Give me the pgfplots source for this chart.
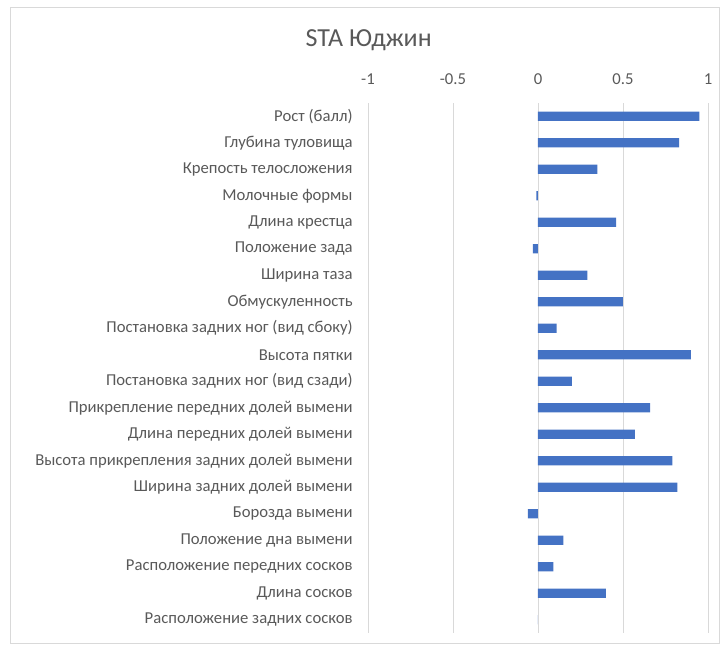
\documentclass[border=0pt]{standalone}
\usepackage{pgfplots}
\pgfplotsset{compat=1.18}
\usepackage{fontspec}
\setmainfont{Carlito}
\definecolor{barblue}{HTML}{4472C4}
\definecolor{txtgray}{HTML}{595959}
\definecolor{gridgray}{HTML}{D9D9D9}
\begin{document}
\begin{tikzpicture}
\useasboundingbox (0pt,0pt) rectangle (544.5pt,-489.75pt);
\draw[gridgray, line width=0.6pt] (7.5pt,-5.25pt) rectangle (539.25pt,-482.25pt);
\node[txtgray, font=\fontsize{19.5}{22}\selectfont] at (276.5pt,-30pt) {STA Юджин};
\begin{axis}[
  at={(276pt,-474.75pt)}, anchor=south west,
  scale only axis, width=255pt, height=397.5pt,
  xbar, bar width=6.8pt,
  xmin=-1, xmax=1,
  ymin=-0.5, ymax=19.5, y dir=reverse,
  xtick={-1,-0.5,0,0.5,1},
  xticklabels={-1,-0.5,0,0.5,1},
  xticklabel pos=upper,
  ytick={0,...,19},
  yticklabels={Рост (балл),Глубина туловища,Крепость телосложения,Молочные формы,Длина крестца,Положение зада,Ширина таза,Обмускуленность,Постановка задних ног (вид сбоку),Высота пятки,Постановка задних ног (вид сзади),Прикрепление передних долей вымени,Длина передних долей вымени,Высота прикрепления задних долей вымени,Ширина задних долей вымени,Борозда вымени,Положение дна вымени,Расположение передних сосков,Длина сосков,Расположение задних сосков},
  axis line style={draw=none},
  major tick length=0pt,
  xmajorgrids, grid style={gridgray, line width=0.6pt},
  tick label style={txtgray, font=\fontsize{12.5}{14}\selectfont},
  yticklabel style={xshift=-8pt},
  xticklabel style={yshift=10pt},
  /pgf/number format/assume math mode=true,
]
\addplot[fill=barblue, draw=none] coordinates {
(0.95,0) (0.83,1) (0.35,2) (-0.01,3) (0.46,4) (-0.03,5) (0.29,6) (0.50,7) (0.11,8) (0.90,9)
(0.20,10) (0.66,11) (0.57,12) (0.79,13) (0.82,14) (-0.06,15) (0.15,16) (0.09,17) (0.40,18) (0,19)
};
\end{axis}
\end{tikzpicture}
\end{document}
